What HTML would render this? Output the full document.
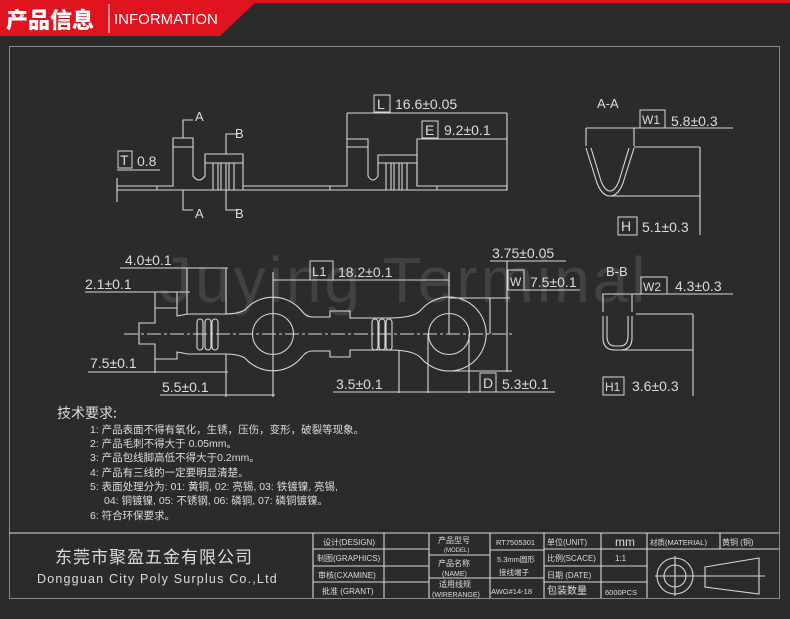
<!DOCTYPE html>
<html><head><meta charset="utf-8"><style>
html,body{margin:0;padding:0;background:#2b2b2b;}
svg{display:block}
text{font-family:"Liberation Sans","Noto Sans CJK SC",sans-serif;fill:#dcdcdc}
</style></head><body>
<svg width="790" height="619" viewBox="0 0 790 619" xmlns="http://www.w3.org/2000/svg">
<rect width="790" height="619" fill="#2b2b2b"/>
<!-- header -->
<rect x="0" y="0" width="790" height="3" fill="#e0141e"/>
<polygon points="0,0 258,0 220,36 0,36" fill="#e0141e"/>
<text x="6" y="28" style="font-family:'Noto Sans CJK SC',sans-serif;font-weight:900;font-size:22px;fill:#fff">产品信息</text>
<line x1="109" y1="4" x2="109" y2="33" stroke="#fff" stroke-width="1"/>
<text x="114" y="24" style="font-size:15px;fill:#fff">INFORMATION</text>
<!-- frame -->
<rect x="9.5" y="46.5" width="770" height="552" fill="none" stroke="#8a8a8a" stroke-width="1"/>
<!-- watermark -->
<text x="160" y="302" style="font-size:64px;fill:rgba(255,255,255,0.11);letter-spacing:3px">Juying Terminal</text>

<g fill="none" stroke="#d8d8d8" stroke-width="1.1">
<!-- top side view -->
<path d="M117,186 H173 V138 H193 V176 Q199,184 205,176 V154 H243 V186 H347 V139 H368 V176 Q373,184 378,176 V155 H417 V186 H507 V190 H117"/>
<line x1="205" y1="163" x2="243" y2="163"/>
<line x1="378" y1="163" x2="417" y2="163"/>
<line x1="173" y1="147" x2="193" y2="147"/>
<line x1="347" y1="147" x2="368" y2="147"/>
<path d="M213,163 V190 M218,163 V190 M221,163 V190 M226,163 V190 M229,163 V190 M234,163 V190"/>
<path d="M386,163 V190 M391,163 V190 M394,163 V190 M399,163 V190 M402,163 V190 M407,163 V190"/>
<path d="M417,186 V139 H507 M507,113 V190 M347,113 V139 M157,186 V190 M330,186 V190 M243,186 V190 M437,186 V190"/>
<line x1="347" y1="113" x2="507" y2="113"/>
<line x1="417" y1="139" x2="507" y2="139"/>
<line x1="117" y1="170" x2="160" y2="170"/>
<line x1="117" y1="178" x2="117" y2="202"/>
<path d="M193,120 H183 V138 M193,210 H183 V190 M238,134 H226 V154 M238,210 H226 V190"/>
<!-- A-A -->
<path d="M586,148 L597,183 Q602,196 610,196 Q618,196 623,183 L634,148 M591,148 L601,181 Q605,191 610,191 Q615,191 619,181 L629,148"/>
<path d="M586,128 V146 M634,128 V146 M586,128 H733 M634,147 H700 M610,196 H700 M700,147 V235"/>
<!-- B-B -->
<path d="M603,316 V338 Q603,350 615,350 H620 Q632,350 632,338 V316 M607,316 V336 Q607,346 615,346 H620 Q628,346 628,336 V316"/>
<path d="M603,294 V312 M632,294 V312 M602,294 H733 M636,314 H693 M620,350 H693 M693,314 V396"/>
<!-- bottom plan view -->
<path d="M139,334 V323 H155 V308 H177 V316 L188,314 H226 Q238,314 245,310 A37,37 0 0 1 301,310 Q306,317 312,317 H330 V311 H350 V318 H389 Q414,318 421,310 A37,37 0 1 1 421,358 Q414,350 389,350 H350 V357 H330 V351 H312 Q306,351 301,358 A37,37 0 0 1 245,358 Q238,354 226,354 H188 L177,352 V359 H155 V344 H139 V334"/>
<circle cx="273" cy="334" r="20.5"/>
<circle cx="449" cy="334" r="20.5"/>
<rect x="197" y="319" width="6" height="31" rx="3"/>
<rect x="205" y="319" width="6" height="31" rx="3"/>
<rect x="212" y="319" width="6" height="31" rx="3"/>
<rect x="372" y="319" width="6" height="31" rx="3"/>
<rect x="379" y="319" width="6" height="31" rx="3"/>
<rect x="386" y="319" width="6" height="31" rx="3"/>
<line x1="124" y1="334" x2="513" y2="334" stroke-dasharray="14,3,3,3"/>
<line x1="273" y1="272" x2="273" y2="397"/>
<line x1="449" y1="272" x2="449" y2="334"/>
<path d="M120,268 H228 M187,268 V314 M226,268 V314 M85,292 H190 M155,292 V308 M177,292 V308 M88,372 H228 M155,359 V373 M226,354 V373 M160,395 H275 M226,372 V397 M273,280 H449 M490,261 H566 M507,261 V372 M507,290 H580 M449,298 H510 M449,371 H512 M490,298 V334 M333,392 H430 M399,350 V393 M428,334 V393 M469,334 V393 M428,392 H555"/>
<!-- title block -->
<path d="M9,533 H779 M313,533 V598 M384,533 V598 M429,533 V598 M490,533 V598 M544,533 V598 M601,533 V598 M647,533 V598 M720,533 V549"/>
<path d="M313,549 H429 M313,566 H429 M313,582 H429 M429,555 H490 M429,578 H544 M490,550 H544 M544,549 H647 M544,566 H647 M544,582 H647 M647,549 H779"/>
<circle cx="675" cy="576" r="18"/><circle cx="675" cy="576" r="11"/>
<path d="M655,576 H765 M675,556 V596 M705,567 L759,558 V594 L705,587 Z"/>
</g>
<!-- boxes -->
<g fill="none" stroke="#d8d8d8" stroke-width="1">
<rect x="374" y="95" width="16" height="17"/><rect x="422" y="121" width="16" height="17"/>
<rect x="118" y="151" width="14" height="17"/>
<rect x="640" y="110" width="25" height="18"/><rect x="618" y="217" width="19" height="18"/>
<rect x="641" y="277" width="26" height="17"/><rect x="603" y="377" width="21" height="18"/>
<rect x="310" y="261" width="23" height="19"/><rect x="508" y="270" width="16" height="20"/>
<rect x="480" y="373" width="16" height="19"/>
</g>
<g style="font-size:14px">
<text x="377" y="109">L</text><text x="395" y="109">16.6±0.05</text>
<text x="425" y="135">E</text><text x="444" y="135">9.2±0.1</text>
<text x="120" y="165">T</text><text x="137" y="166">0.8</text>
<text x="195" y="121" style="font-size:13px">A</text><text x="195" y="218" style="font-size:13px">A</text>
<text x="235" y="138" style="font-size:13px">B</text><text x="235" y="218" style="font-size:13px">B</text>
<text x="597" y="108" style="font-size:13px">A-A</text>
<text x="642" y="124" style="font-size:12px">W1</text><text x="671" y="126">5.8±0.3</text>
<text x="621" y="231">H</text><text x="642" y="232">5.1±0.3</text>
<text x="606" y="276" style="font-size:13px">B-B</text>
<text x="643" y="291" style="font-size:12px">W2</text><text x="675" y="291">4.3±0.3</text>
<text x="605" y="391" style="font-size:12px">H1</text><text x="632" y="391">3.6±0.3</text>
<text x="125" y="265">4.0±0.1</text>
<text x="85" y="289">2.1±0.1</text>
<text x="90" y="368">7.5±0.1</text>
<text x="162" y="392">5.5±0.1</text>
<text x="312" y="276" style="font-size:13px">L1</text><text x="338" y="277">18.2±0.1</text>
<text x="492" y="258">3.75±0.05</text>
<text x="510" y="286" style="font-size:12px">W</text><text x="530" y="287">7.5±0.1</text>
<text x="483" y="388">D</text><text x="502" y="389">5.3±0.1</text>
<text x="336" y="389">3.5±0.1</text>
</g>
<g style="font-family:'Noto Serif CJK SC','Liberation Serif',serif">
<text x="57" y="418" style="font-size:14px;font-family:'Noto Sans CJK SC',sans-serif">技术要求:</text>
<g style="font-size:10.5px">
<text x="90" y="433">1: 产品表面不得有氧化，生锈，压伤，变形，破裂等现象。</text>
<text x="90" y="447">2: 产品毛刺不得大于 0.05mm。</text>
<text x="90" y="461">3: 产品包线脚高低不得大于0.2mm。</text>
<text x="90" y="476">4: 产品有三线的一定要明显清楚。</text>
<text x="90" y="490">5: 表面处理分为: 01: 黄铜, 02: 亮锡, 03: 铁镀镍, 亮锡,</text>
<text x="104" y="504">04: 铜镀镍, 05: 不锈钢, 06: 磷铜, 07: 磷铜镀镍。</text>
<text x="90" y="519">6: 符合环保要求。</text>
</g></g>
<text x="55" y="563" style="font-size:17px;letter-spacing:1px;font-family:'Noto Sans CJK SC',sans-serif">东莞市聚盈五金有限公司</text>
<text x="37" y="583" style="font-size:12.5px;letter-spacing:1.2px">Dongguan City Poly Surplus Co.,Ltd</text>
<g style="font-size:8px">
<text x="323" y="545">设计(DESIGN)</text>
<text x="317" y="561">制图(GRAPHICS)</text>
<text x="318" y="578">审核(CXAMINE)</text>
<text x="322" y="594">批准 (GRANT)</text>
<text x="438" y="543">产品型号</text><text x="444" y="552" style="font-size:6px">(MODEL)</text>
<text x="438" y="566">产品名称</text><text x="442" y="576" style="font-size:7px">(NAME)</text>
<text x="439" y="587">适用线规</text><text x="432" y="597" style="font-size:7px">(WIRERANGE)</text>
<text x="496" y="545" style="font-size:7.5px">RT7505301</text>
<text x="497" y="562" style="font-size:7.5px">5.3mm圆形</text>
<text x="499" y="575" style="font-size:7.5px">接线端子</text>
<text x="491" y="594" style="font-size:7.5px">AWG#14-18</text>
<text x="547" y="545">单位(UNIT)</text>
<text x="547" y="561">比例(SCACE)</text>
<text x="547" y="578">日期 (DATE)</text>
<text x="547" y="594" style="font-size:10px">包装数量</text>
<text x="615" y="546" style="font-size:12px">mm</text>
<text x="615" y="561">1:1</text>
<text x="605" y="595" style="font-size:7.5px">6000PCS</text>
<text x="650" y="545" style="font-size:7.5px">材质(MATERIAL)</text>
<text x="722" y="545" style="font-size:8px">黄铜 (铜)</text>
</g>
</svg>
</body></html>
